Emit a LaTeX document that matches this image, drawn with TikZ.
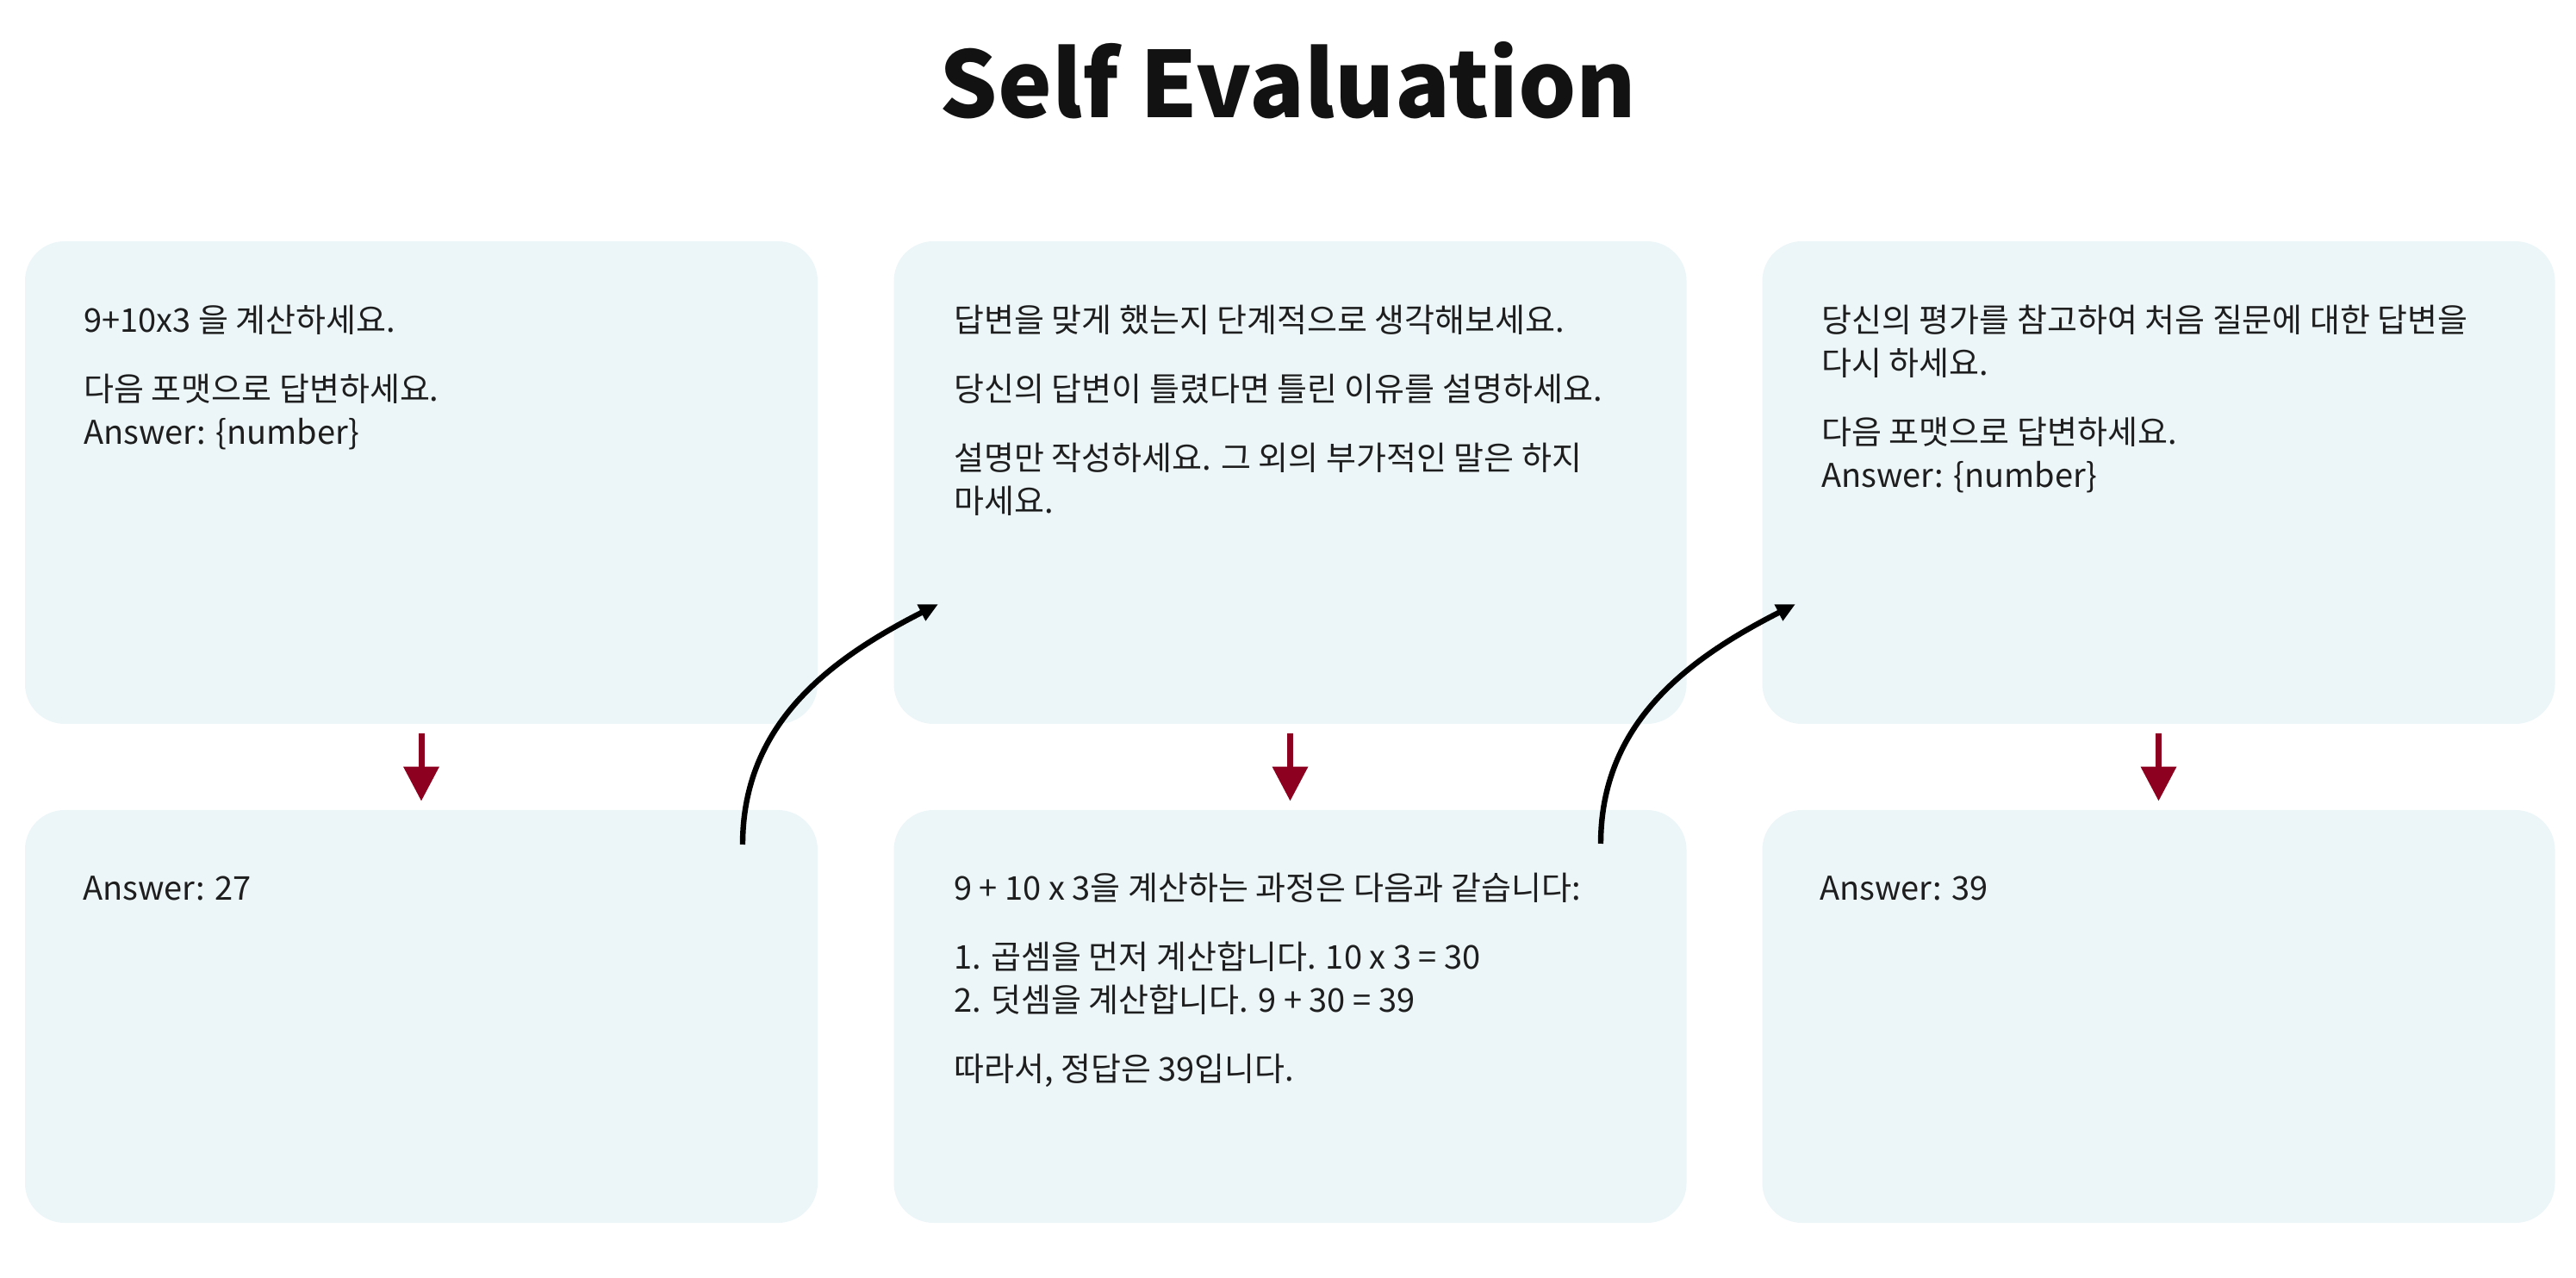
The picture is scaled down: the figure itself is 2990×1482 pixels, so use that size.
\documentclass[tikz,border=0pt]{standalone}
\usepackage{fontspec}
\setmainfont{Noto Sans CJK KR}
\usetikzlibrary{arrows.meta}
\definecolor{cardfill}{HTML}{ECF5F8}
\definecolor{flowred}{HTML}{8E001F}
\definecolor{inktext}{HTML}{1E1E1E}

\begin{document}
\begin{tikzpicture}[x=0.5pt,y=0.5pt]
   \useasboundingbox (0,0) rectangle (2990,1482);
   \tikzstyle{card}=[rounded corners=23pt, fill=cardfill, minimum width=460pt, inner sep=0pt]
   \tikzstyle{prompt}=[anchor=north west, inner sep=0pt, align=left, text=inktext, font=\fontsize{19pt}{25pt}\selectfont]
   \tikzstyle{flow}=[line width=3.5pt, draw=flowred, -{Triangle[length=20pt,width=20pt]}, shorten <=5.5pt, shorten >=5pt]
   \tikzstyle{loop}=[line width=3.2pt, -{Triangle[length=11pt,width=10pt]}]
   \node[anchor=base, font=\fontsize{53pt}{56pt}\bfseries, text=black!93] (title) at (1495,1345) {Self Evaluation};
   \foreach \i/\x in {1/489,2/1497.5,3/2505.5} {
       \node[card, minimum height=280pt] (ask\i) at (\x,922) {};
       \node[card, minimum height=239.5pt] (out\i) at (\x,302.5) {};
       \draw[flow] (ask\i) -- (out\i);
   }
   % prompts
   \node[prompt] (p1) at (97,1135) {\rule{0pt}{1em}9+10x3 을 계산하세요.\\[15pt]
       다음 포맷으로 답변하세요.\\ Answer: \{number\}};
   \node[prompt] (p2) at (1107,1135) {\rule{0pt}{1em}답변을 맞게 했는지 단계적으로 생각해보세요.\\[15pt]
       당신의 답변이 틀렸다면 틀린 이유를 설명하세요.\\[15pt]
       설명만 작성하세요. 그 외의 부가적인 말은 하지\\ 마세요.};
   \node[prompt] (p3) at (2114,1135) {\rule{0pt}{1em}당신의 평가를 참고하여 처음 질문에 대한 답변을\\ 다시 하세요.\\[15pt]
       다음 포맷으로 답변하세요.\\ Answer: \{number\}};
   % answers
   \node[prompt] (a1) at (96,476) {\rule{0pt}{1em}Answer: 27};
   \node[prompt] (a2) at (1107,476) {\rule{0pt}{1em}9 + 10 x 3을 계산하는 과정은 다음과 같습니다:\\[15pt]
       1. 곱셈을 먼저 계산합니다. 10 x 3 = 30\\ 2. 덧셈을 계산합니다. 9 + 30 = 39\\[15pt]
       따라서, 정답은 39입니다.};
   \node[prompt] (a3) at (2112,476) {\rule{0pt}{1em}Answer: 39};
   % feedback arrows
   \coordinate (from1) at (862,502);
   \coordinate (to2) at (1089,781);
   \coordinate (from2) at (1858,503);
   \coordinate (to3) at (2084,781);
   \draw[loop] (from1) to[out=90,in=207] (to2);
   \draw[loop] (from2) to[out=90,in=207] (to3);
\end{tikzpicture}
\end{document}
